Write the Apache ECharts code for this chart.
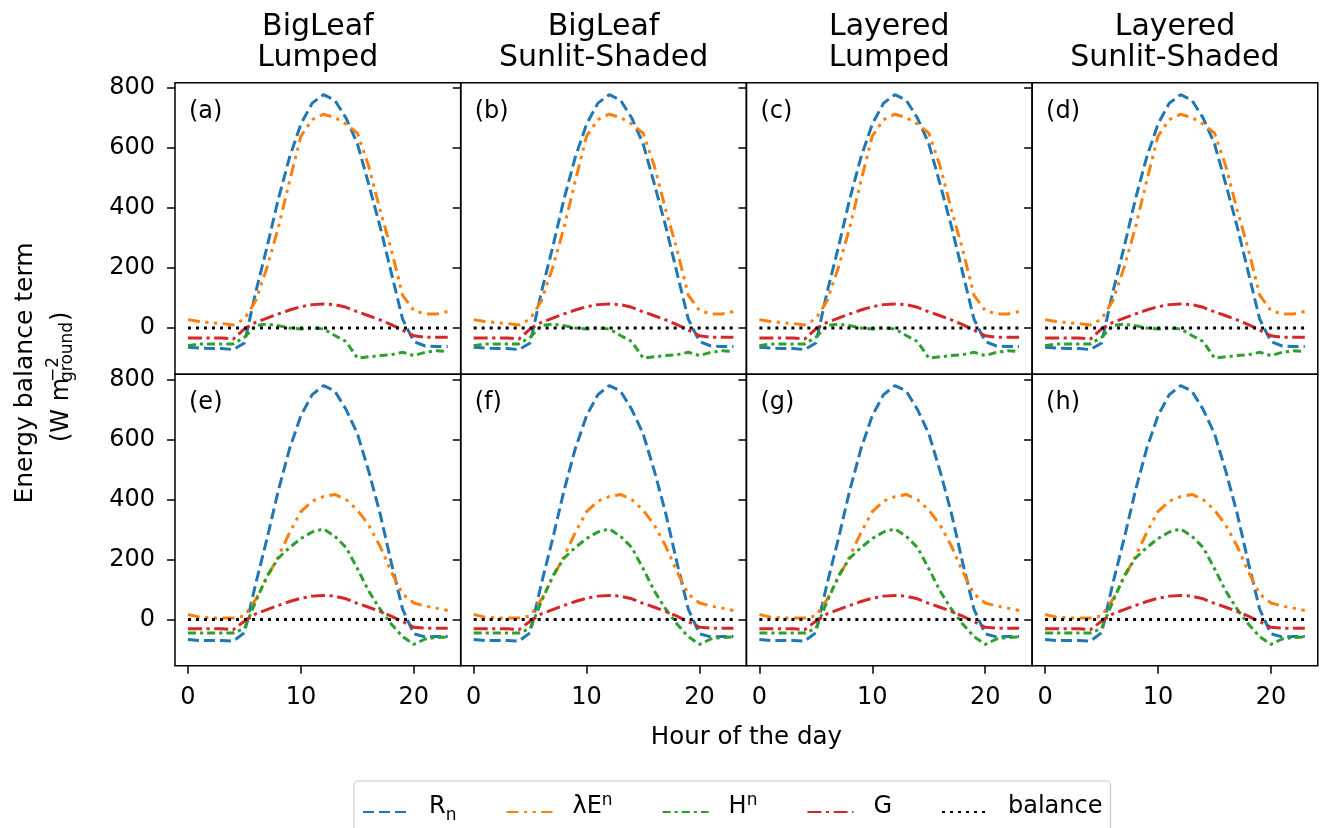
<!DOCTYPE html>
<html><head><meta charset="utf-8">
<script src="https://cdn.jsdelivr.net/npm/echarts@6/dist/echarts.min.js"></script>
<style>html,body{margin:0;padding:0;background:#fff}#c{width:1320px;height:828px}</style>
</head><body><div id="c"></div>
<script>
// ---------------- data ----------------
const HOURS = [0,1,2,3,4,5,6,7,8,9,10,11,12,13,14,15,16,17,18,19,20,21,22,23];
const X_TICKS = [0, 10, 20];
const Y_TICKS = [0, 200, 400, 600, 800];
const COLUMN_TITLES = ['BigLeaf\nLumped', 'BigLeaf\nSunlit-Shaded', 'Layered\nLumped', 'Layered\nSunlit-Shaded'];
const PANEL_LABELS = ['(a)','(b)','(c)','(d)','(e)','(f)','(g)','(h)'];
const SERIES_NAMES = ['Rn', 'LEn', 'Hn', 'G', 'balance'];

// top row (a)-(d)
const RN_TOP = [-64,-67,-68,-68,-72,-50,120,270,430,570,680,750,778,760,700,615,480,340,185,30,-45,-60,-62,-62];
const LE_TOP = [28,22,18,15,10,30,91,202,335,491,640,695,713,702,680,650,540,395,262,110,58,47,47,55];
const H_TOP  = [-59,-53,-53,-53,-53,-31,8,13,8,0,-3,0,-3,-25,-45,-100,-96,-92,-89,-81,-92,-81,-76,-78];
const G_TOP  = [-33,-33,-33,-33,-37,-3,19,33,47,60,71,78,80,78,69,54,41,27,11,-7,-26,-31,-31,-31];
// bottom row (e)-(h)
const RN_BOT = [-67,-70,-70,-70,-72,-44,120,270,430,570,680,750,780,762,700,620,495,355,190,35,-48,-58,-57,-57];
const LE_BOT = [17,8,5,5,5,12,67,140,210,290,360,395,410,417,400,365,315,245,160,85,55,45,38,30];
const H_BOT  = [-45,-45,-45,-45,-45,-30,60,145,205,240,270,292,302,278,240,170,95,35,-15,-57,-83,-65,-60,-58];
const G_BOT  = [-31,-31,-31,-31,-34,-6,19,33,47,60,71,78,80,78,69,54,41,27,11,-7,-26,-29,-29,-29];
const BALANCE = [0,0,0,0,0,0,0,0,0,0,0,0,0,0,0,0,0,0,0,0,0,0,0,0];

// ---------------- layout / style ----------------
const FONT = 'DejaVu Sans';
const L0 = 175, PW = 285.7, PH = 291.5, TOPS = [82.7, 374.2];
const X_MIN = -1.15, X_MAX = 24.15, Y_MIN = -154, Y_MAX = 818;
const STYLE = {
  Rn:      { color: '#1f77b4', type: [11, 5] },
  LEn:     { color: '#ff7f0e', type: [12, 5.5, 3.2, 5.5, 3.2, 5.5] },
  Hn:      { color: '#2ca02c', type: [8, 4, 3.2, 4] },
  G:       { color: '#d62728', type: [14, 4.5, 3.2, 4.5] },
  balance: { color: '#000000', type: [3, 5] }
};
const LW = 3;

const grids = [], xAxes = [], yAxes = [], series = [], graphics = [];
for (let p = 0; p < 8; p++) {
  const row = Math.floor(p / 4), col = p % 4;
  const left = L0 + col * PW, top = TOPS[row];
  grids.push({ left: left, top: top, width: PW, height: PH, show: true,
    borderColor: '#000', borderWidth: 1.5, backgroundColor: 'rgba(0,0,0,0)' });
  xAxes.push({ type: 'value', gridIndex: p, min: X_MIN, max: X_MAX, position: 'bottom',
    axisLine: { show: false, onZero: false }, splitLine: { show: false },
    axisTick: { show: row === 1, customValues: X_TICKS, length: 8, lineStyle: { color: '#000', width: 1.5 } },
    axisLabel: { show: row === 1, customValues: X_TICKS, margin: 20, fontSize: 24, fontFamily: FONT, color: '#000' } });
  yAxes.push({ type: 'value', gridIndex: p, min: Y_MIN, max: Y_MAX, position: 'left',
    axisLine: { show: false, onZero: false }, splitLine: { show: false },
    axisTick: { show: true, customValues: Y_TICKS, length: 8, lineStyle: { color: '#000', width: 1.5 } },
    axisLabel: { show: col === 0, customValues: Y_TICKS, margin: 20, fontSize: 24, fontFamily: FONT, color: '#000' } });
  const sets = row === 0 ? [RN_TOP, LE_TOP, H_TOP, G_TOP, BALANCE] : [RN_BOT, LE_BOT, H_BOT, G_BOT, BALANCE];
  SERIES_NAMES.forEach((name, k) => {
    series.push({ name: name, type: 'line', xAxisIndex: p, yAxisIndex: p,
      symbol: 'none', silent: true, animation: false,
      data: HOURS.map((h, j) => [h, sets[k][j]]),
      lineStyle: { color: STYLE[name].color, type: STYLE[name].type, width: LW, cap: 'butt' },
      itemStyle: { color: STYLE[name].color } });
  });
  graphics.push({ type: 'text', x: left + 14, y: top + 29, style: {
    text: PANEL_LABELS[p], font: '24px ' + FONT, fill: '#000', textAlign: 'left', textVerticalAlign: 'middle' } });
}
COLUMN_TITLES.forEach((t, c) => {
  graphics.push({ type: 'text', x: L0 + c * PW + PW / 2, y: 43, style: {
    text: t, font: '30px ' + FONT, fill: '#000', textAlign: 'center', textVerticalAlign: 'middle', lineHeight: 31 } });
});
// x label
graphics.push({ type: 'text', x: L0 + 2 * PW, y: 738, style: {
  text: 'Hour of the day', font: '24.5px ' + FONT, fill: '#000', textAlign: 'center', textVerticalAlign: 'middle' } });
// y label line 1
graphics.push({ type: 'text', x: 25, y: 373, rotation: Math.PI / 2, style: {
  text: 'Energy balance term', font: '25px ' + FONT, fill: '#000', textAlign: 'center', textVerticalAlign: 'middle' } });
// y label line 2: (W m^{-2}_{ground})
graphics.push({ type: 'text', x: 62, y: 442, rotation: Math.PI / 2, style: {
  text: '(W m', font: '24px ' + FONT, fill: '#000', textAlign: 'left', textVerticalAlign: 'middle' } });
graphics.push({ type: 'text', x: 54, y: 382, rotation: Math.PI / 2, style: {
  text: '\u22122', font: '17px ' + FONT, fill: '#000', textAlign: 'left', textVerticalAlign: 'middle' } });
graphics.push({ type: 'text', x: 68, y: 382, rotation: Math.PI / 2, style: {
  text: 'ground', font: '17px ' + FONT, fill: '#000', textAlign: 'left', textVerticalAlign: 'middle' } });
graphics.push({ type: 'text', x: 62, y: 321, rotation: Math.PI / 2, style: {
  text: ')', font: '24px ' + FONT, fill: '#000', textAlign: 'left', textVerticalAlign: 'middle' } });

const LEGEND_TEXT = { Rn: '{m|R}{sub|n}', LEn: '{m|\u03bbE}{sup|n}', Hn: '{m|H}{sup|n}', G: '{m|G}', balance: '{m|balance}' };

const chart = echarts.init(document.getElementById('c'), null, { renderer: 'canvas' });
chart.setOption({
  backgroundColor: '#fff',
  animation: false,
  grid: grids, xAxis: xAxes, yAxis: yAxes, series: series, graphic: graphics,
  legend: {
    data: SERIES_NAMES, left: 354, top: 781, orient: 'horizontal',
    padding: [11, 8, 30, 8], itemGap: 49, itemWidth: 46, itemHeight: 14,
    borderColor: '#cccccc', borderWidth: 1.2, borderRadius: 4, backgroundColor: '#fff',
    selectedMode: false,
    itemStyle: { color: 'rgba(0,0,0,0)', borderColor: 'rgba(0,0,0,0)', borderWidth: 0 },
    formatter: name => LEGEND_TEXT[name],
    textStyle: { fontFamily: FONT, fontSize: 24, color: '#000', padding: [0, 0, 0, 15],
      rich: {
        m: { fontFamily: FONT, fontSize: 24, lineHeight: 24, verticalAlign: 'bottom', padding: [2, 0, 5, 0], color: '#000' },
        sub: { fontFamily: FONT, fontSize: 17, lineHeight: 17, verticalAlign: 'bottom', color: '#000' },
        sup: { fontFamily: FONT, fontSize: 17, lineHeight: 17, verticalAlign: 'bottom', padding: [0, 0, 15, 0], color: '#000' }
      } }
  }
});
</script></body></html>
